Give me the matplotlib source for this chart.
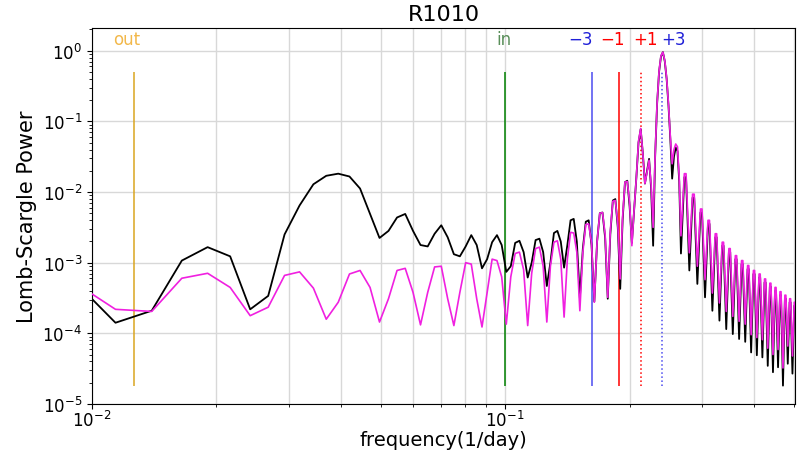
import matplotlib
matplotlib.use("Agg")
import matplotlib.pyplot as plt
from matplotlib.ticker import NullFormatter
import numpy as np

# frequency grid (1/day) of the periodogram
freq = [
    0.00885, 0.0114, 0.01395, 0.0165, 0.01905,
    0.0216, 0.02415, 0.0267, 0.02925, 0.0318,
    0.03435, 0.0369, 0.03945, 0.042, 0.04455,
    0.0471, 0.04965, 0.0522, 0.05475, 0.0573,
    0.05985, 0.0624, 0.06495, 0.0675, 0.07005,
    0.0726, 0.07515, 0.0777, 0.08025, 0.0828,
    0.08535, 0.0879, 0.09045, 0.093, 0.09555,
    0.0981, 0.10065, 0.1032, 0.10575, 0.1083,
    0.11085, 0.1134, 0.11595, 0.1185, 0.12105,
    0.1236, 0.12615, 0.1287, 0.13125, 0.1338,
    0.13635, 0.1389, 0.14145, 0.144, 0.14655,
    0.1491, 0.15165, 0.1542, 0.15675, 0.1593,
    0.16185, 0.1644, 0.16695, 0.1695, 0.17205,
    0.1746, 0.17715, 0.1797, 0.18225, 0.1848,
    0.18735, 0.1899, 0.19245, 0.195, 0.19755,
    0.2001, 0.20265, 0.2052, 0.20775, 0.2103,
    0.21285, 0.2154, 0.21795, 0.2205, 0.22305,
    0.2256, 0.22815, 0.2307, 0.23325, 0.2358,
    0.23835, 0.2409, 0.24345, 0.246, 0.24855,
    0.2511, 0.25365, 0.2562, 0.25875, 0.2613,
    0.26385, 0.2664, 0.2715, 0.27405,
    0.27915, 0.28425, 0.2868,
    0.2919, 0.297, 0.29955,
    0.30465, 0.30975, 0.3123,
    0.3174, 0.3225, 0.32505,
    0.33015, 0.33525, 0.3378,
    0.3429, 0.348, 0.35055,
    0.35565, 0.36075, 0.3633,
    0.3684, 0.3735, 0.37605,
    0.38115, 0.38625, 0.3888,
    0.3939, 0.399, 0.40155,
    0.40665, 0.41175, 0.4143,
    0.4194, 0.4245, 0.42705,
    0.43215, 0.43725, 0.4398,
    0.4449, 0.45, 0.45255,
    0.45765, 0.46275, 0.4653,
    0.4704, 0.4755, 0.47805,
    0.48315, 0.48825, 0.4908,
    0.4959, 0.501, 0.50355,
]

# log10 of Lomb-Scargle power, black curve (data)
logp_data = [
    -3.20, -3.85, -3.68, -2.97, -2.78,
    -2.91, -3.66, -3.47, -2.60, -2.19,
    -1.89, -1.77, -1.74, -1.78, -1.95,
    -2.31, -2.65, -2.55, -2.36, -2.31,
    -2.55, -2.75, -2.77, -2.59, -2.47,
    -2.64, -2.88, -2.91, -2.77, -2.61,
    -2.75, -3.08, -2.95, -2.71, -2.61,
    -2.75, -3.13, -3.05, -2.72, -2.69,
    -2.85, -3.21, -3.00, -2.68, -2.66,
    -2.85, -3.33, -3.00, -2.58, -2.55,
    -2.70, -3.07, -2.75, -2.40, -2.38,
    -2.70, -3.50, -2.80, -2.42, -2.40,
    -2.75, -3.55, -2.70, -2.30, -2.29,
    -2.65, -3.51, -2.60, -2.12, -2.10,
    -2.50, -3.37, -2.40, -1.86, -1.84,
    -2.20, -2.72, -2.25, -1.80, -1.30,
    -1.11, -1.45, -1.88, -1.70, -1.53,
    -1.95, -2.76, -1.50, -0.75, -0.30,
    -0.08, -0.02, -0.15, -0.40, -0.78,
    -1.25, -1.81, -1.50, -1.37, -1.42,
    -1.85, -2.87, -1.79, -1.79,
    -3.11, -2.08, -2.08,
    -3.30, -2.29, -2.29,
    -3.49, -2.45, -2.45,
    -3.68, -2.64, -2.64,
    -3.82, -2.76, -2.76,
    -3.94, -2.85, -2.85,
    -4.01, -2.95, -2.95,
    -4.08, -3.02, -3.02,
    -4.12, -3.09, -3.09,
    -4.27, -3.16, -3.16,
    -4.31, -3.21, -3.21,
    -4.34, -3.28, -3.28,
    -4.46, -3.34, -3.34,
    -4.55, -3.40, -3.40,
    -4.48, -3.46, -3.46,
    -4.74, -3.51, -3.51,
    -4.43, -3.56, -3.56,
    -4.57, -3.61, -3.61,
]

# log10 of Lomb-Scargle power, magenta curve (window / model)
logp_window = [
    -3.24, -3.66, -3.69, -3.22, -3.15,
    -3.35, -3.75, -3.63, -3.18, -3.13,
    -3.36, -3.80, -3.56, -3.16, -3.11,
    -3.35, -3.84, -3.51, -3.11, -3.08,
    -3.42, -3.88, -3.42, -3.06, -3.05,
    -3.51, -3.89, -3.42, -3.00, -3.02,
    -3.51, -3.91, -3.42, -2.95, -2.97,
    -3.20, -3.87, -3.20, -2.87, -2.85,
    -3.10, -3.89, -3.15, -2.80, -2.78,
    -3.05, -3.84, -3.05, -2.71, -2.69,
    -2.95, -3.77, -2.95, -2.57, -2.58,
    -2.85, -3.68, -2.85, -2.46, -2.45,
    -2.72, -3.56, -2.70, -2.30, -2.29,
    -2.60, -3.49, -2.55, -2.13, -2.12,
    -2.45, -3.23, -2.35, -1.86, -1.85,
    -2.15, -2.76, -2.25, -1.80, -1.28,
    -1.10, -1.45, -1.88, -1.72, -1.55,
    -1.90, -2.50, -1.48, -0.74, -0.29,
    -0.07, -0.02, -0.14, -0.39, -0.76,
    -1.22, -1.60, -1.40, -1.32, -1.36,
    -1.80, -2.62, -1.74, -1.74,
    -2.86, -2.03, -2.03,
    -3.05, -2.24, -2.24,
    -3.24, -2.40, -2.40,
    -3.43, -2.59, -2.59,
    -3.57, -2.71, -2.71,
    -3.69, -2.80, -2.80,
    -3.76, -2.90, -2.90,
    -3.83, -2.97, -2.97,
    -3.87, -3.04, -3.04,
    -4.02, -3.11, -3.11,
    -4.06, -3.16, -3.16,
    -4.09, -3.23, -3.23,
    -4.21, -3.29, -3.29,
    -4.30, -3.35, -3.35,
    -4.23, -3.41, -3.41,
    -4.49, -3.46, -3.46,
    -4.18, -3.51, -3.51,
    -4.32, -3.56, -3.56,
]

# marker lines: frequency, label, colour, style, label x position
mark_freq = [0.01265, 0.1, 0.1622, 0.1881, 0.2135, 0.2394]
mark_text = ["out", "in", "\u22123", "\u22121", "+1", "+3"]
mark_color = ["goldenrod", "green", "#4b4bf0", "red", "red", "#4b4bf0"]
mark_style = ["-", "-", "-", "-", ":", ":"]
text_x = [0.01215, 0.0994, 0.1524, 0.1821, 0.2183, 0.2559]
text_color = ["#f2b84b", "#5a8f5a", "#2020d8", "red", "red", "#2020d8"]

assert len(freq) == len(logp_data) == len(logp_window)

fig = plt.figure(figsize=(8.04, 4.52), dpi=100)
ax = fig.add_axes([0.1144, 0.104, 0.8744, 0.8319])

ax.plot(freq, 10 ** np.array(logp_data), color="black", lw=1.3, zorder=3)
ax.plot(freq, 10 ** np.array(logp_window), color="#f020e0", lw=1.2, zorder=4)

for f, c, ls in zip(mark_freq, mark_color, mark_style):
    ax.vlines(f, 1.8e-5, 0.5, colors=c, linestyles=ls, lw=1.1, zorder=2)
for x, t, c in zip(text_x, mark_text, text_color):
    ax.text(x, 1.45, t, color=c, fontsize=12, ha="center", va="center")

ax.set_xscale("log")
ax.set_yscale("log")
ax.set_xlim(0.01, 0.503)
ax.set_ylim(1e-5, 2.1)
ax.xaxis.set_minor_formatter(NullFormatter())
ax.grid(True, which="both", axis="x", color="#d8d8d8", lw=1)
ax.grid(True, which="major", axis="y", color="#d8d8d8", lw=1)
ax.tick_params(labelsize=12)
ax.tick_params(axis="x", pad=1)

ax.set_title("R1010", fontsize=16)
ax.set_xlabel("frequency(1/day)", fontsize=14, labelpad=0)
ax.set_ylabel("Lomb-Scargle Power", fontsize=15)

fig.savefig("out.png", dpi=100)
